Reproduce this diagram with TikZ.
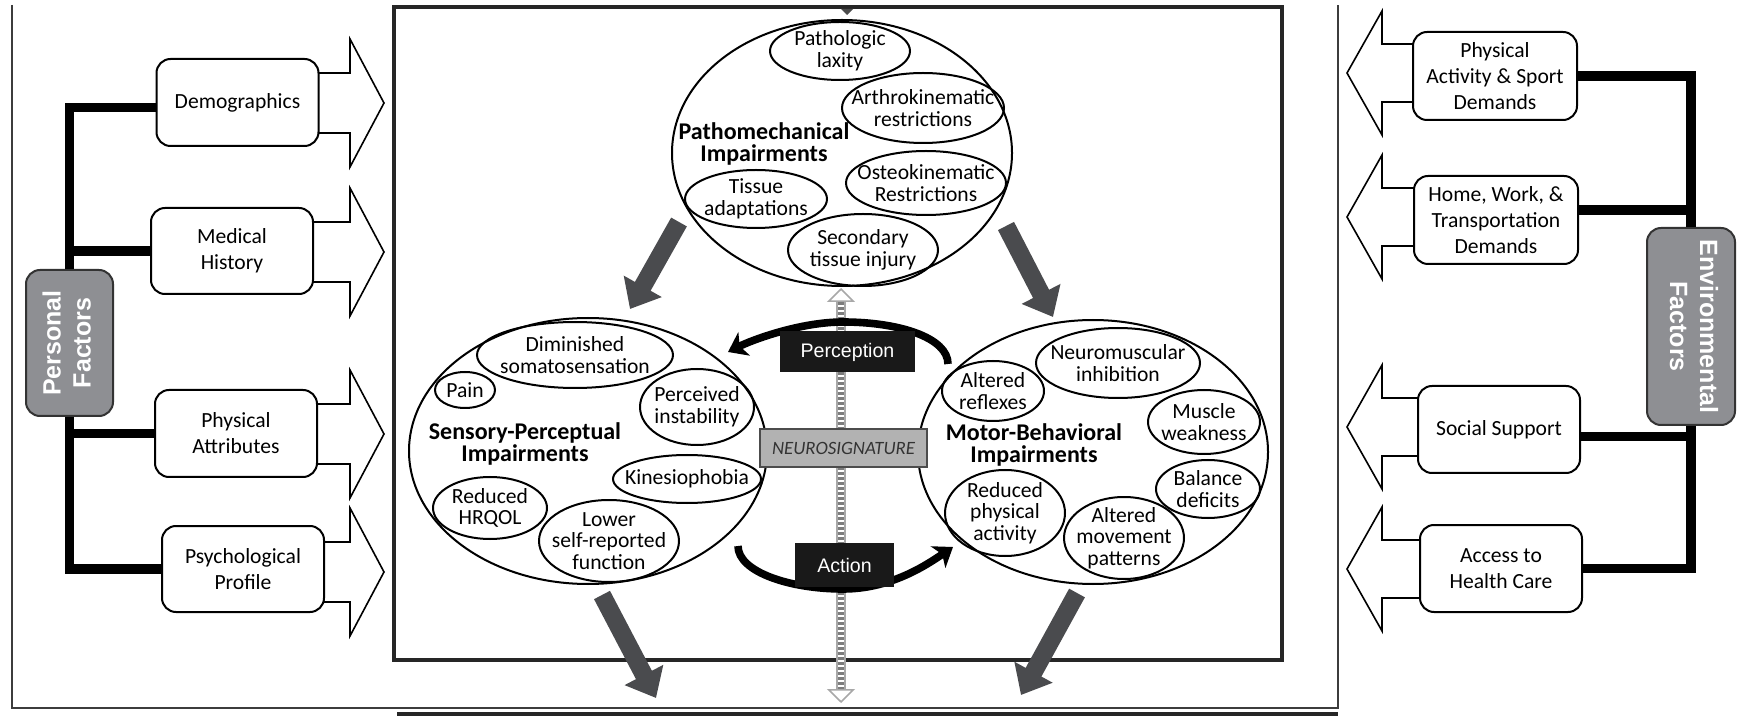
\documentclass[tikz,border=0pt]{standalone}
\usepackage{fontspec}
\usepackage{graphicx}
\setmainfont{Carlito}
\newfontfamily\arialfont{Liberation Sans}
\usetikzlibrary{shapes.geometric,arrows.meta}
\definecolor{arrowgray}{RGB}{74,75,78}
\definecolor{factorgray}{RGB}{142,143,147}
\definecolor{neurogray}{RGB}{178,178,178}
\definecolor{stripegray}{RGB}{168,168,168}
\definecolor{bargray}{RGB}{125,125,125}
\definecolor{framegray}{RGB}{60,60,60}
\newcommand\tightls{\lineskiplimit-20pt\relax}
\newcommand\lblk[1]{\draw[blockarrow] (290,{#1-30}) -- (350,{#1-30}) -- (350,{#1-64}) -- (384,#1) -- (350,{#1+64}) -- (350,{#1+30}) -- (290,{#1+30}) -- cycle;}
\newcommand\rblk[1]{\draw[blockarrow] (1440,{#1-29}) -- (1382,{#1-29}) -- (1382,{#1-62}) -- (1347,#1) -- (1382,{#1+62}) -- (1382,{#1+29}) -- (1440,{#1+29}) -- cycle;}
\begin{document}
\begin{tikzpicture}[x=0.5pt,y=-0.5pt,
  fbox/.style={draw, line width=1pt, rounded corners=7pt, fill=white, align=center, inner sep=0pt, font=\fontsize{10.8}{13}\selectfont},
  factor/.style={draw=black!80, line width=1pt, rounded corners=7pt, fill=factorgray, text=white, inner sep=0pt, font=\arialfont\bfseries\fontsize{12.5}{15}\selectfont},
  conn/.style={line width=4.75pt},
  blockarrow/.style={draw, line width=0.8pt, fill=white, line join=miter},
  ell/.style={draw, ellipse, line width=1pt, inner sep=0pt},
  etext/.style={align=center, inner sep=0pt, font=\fontsize{10.8}{10.8}\selectfont\tightls},
  ttext/.style={align=center, inner sep=0pt, font=\bfseries\fontsize{12}{10.8}\selectfont\tightls},
  bigarrow/.style={arrowgray, line width=9pt, -{Triangle[width=21pt,length=13pt]}},
  curvearrow/.style={line width=3.8pt, -{Stealth[length=9pt,width=13pt,inset=2.5pt]}},
  blackbox/.style={fill=black!90, text=white, inner sep=0pt, font=\arialfont\fontsize{9.8}{11}\selectfont},
]
\useasboundingbox (0,0) rectangle (1740,716);
\fill[white] (0,0) rectangle (1740,716);

% frames
\draw[framegray, line width=1pt] (12,5) -- (12,708) -- (1338,708) -- (1338,5);
\draw[black!85, line width=2.5pt] (397,714) -- (1338,714);
\draw[black!85, line width=2pt] (394,7) rectangle (1282,660);
\fill[black!70] (841,9) -- (853,9) -- (847,15) -- cycle;

% block arrows
\lblk{103}
\lblk{252}
\lblk{434}
\lblk{572}
\rblk{73}
\rblk{217}
\rblk{427}
\rblk{569}

% personal factor boxes
\node[fbox, minimum width=81pt, minimum height=43.5pt] (demo) at (237.5,102.5) {Demographics};
\node[fbox, minimum width=81pt, minimum height=43pt] (med) at (232,251) {Medical\\History};
\node[fbox, minimum width=81pt, minimum height=43.5pt] (phys) at (236,433.5) {Physical\\Attributes};
\node[fbox, minimum width=81pt, minimum height=43pt] (psych) at (243,569) {Psychological\\Profile};
\node[factor, minimum width=43.5pt, minimum height=73pt] (pf) at (69.5,343) {\rotatebox{90}{\begin{tabular}{@{}c@{}}Personal\\Factors\end{tabular}}};

% environmental factor boxes
\node[fbox, minimum width=82pt, minimum height=44pt] (pas) at (1495,76) {Physical\\Activity \& Sport\\Demands};
\node[fbox, minimum width=82pt, minimum height=44pt] (home) at (1496,220) {Home, Work, \&\\Transportation\\Demands};
\node[fbox, minimum width=81pt, minimum height=43.5pt] (soc) at (1499,429.5) {Social Support};
\node[fbox, minimum width=81pt, minimum height=43.5pt] (acc) at (1501,568.5) {Access to\\Health Care};
\node[factor, minimum width=44pt, minimum height=98.5pt] (ef) at (1691,326.5) {\rotatebox{-90}{\begin{tabular}{@{}c@{}}Environmental\\Factors\end{tabular}}};

% connectors
\draw[conn] ([yshift=-2.5pt]demo.west) -| (pf.north);
\draw[conn] (med.west) -- (med.west -| pf.north);
\draw[conn] (phys.west) -- (phys.west -| pf.south);
\draw[conn] (psych.west) -| (pf.south);
\draw[conn] (pas.east) -| (ef.north);
\draw[conn] ([yshift=5pt]home.east) -- ([yshift=5pt]home.east -| ef.north);
\draw[conn] ([yshift=-3.5pt]soc.east) -- ([yshift=-3.5pt]soc.east -| ef.south);
\draw[conn] (acc.east) -| (ef.south);

% pathomechanical
\node[ell, minimum width=170pt, minimum height=133pt] (pm) at (842,153) {};
\node[ell, minimum width=70pt, minimum height=29pt] (pl) at (840,51) {};
\node[etext] at (pl) {Pathologic\\laxity};
\node[ell, minimum width=81pt, minimum height=35pt] (ak) at (923,108) {};
\node[etext] at (ak) {Arthrokinematic\\restrictions};
\node[ell, minimum width=80pt, minimum height=32pt] (ok) at (926,183) {};
\node[etext] at (ok) {Osteokinematic\\Restrictions};
\node[ell, minimum width=71pt, minimum height=29pt] (ta) at (756,199) {};
\node[etext] at (ta) {Tissue\\adaptations};
\node[ell, minimum width=75pt, minimum height=36pt] (st) at (863,250) {};
\node[etext] at (st) {Secondary\\tissue injury};
\node[ttext] (pmt) at (764,144) {Pathomechanical\\Impairments};

% sensory-perceptual
\node[ell, minimum width=179pt, minimum height=133pt] (sp) at (588,451) {};
\node[ell, minimum width=98pt, minimum height=33pt] (ds) at (575,355) {};
\node[etext] at (ds) {Diminished\\somatosensation};
\node[ell, minimum width=30pt, minimum height=18pt] (pain) at (465,390) {};
\node[etext] at (pain) {Pain};
\node[ell, minimum width=57pt, minimum height=38pt] (pi) at (697,407) {};
\node[etext] at (pi) {Perceived\\instability};
\node[ell, minimum width=74pt, minimum height=24pt] (kin) at (687,479) {};
\node[etext] at (kin) {Kinesiophobia};
\node[ell, minimum width=57pt, minimum height=31pt] (hrq) at (490,508) {};
\node[etext] at (hrq) {Reduced\\HRQOL};
\node[ell, minimum width=70pt, minimum height=41pt] (lsr) at (609,541) {};
\node[etext] at (lsr) {Lower\\self-reported\\function};
\node[ttext] (spt) at (525,444) {Sensory-Perceptual\\Impairments};

% motor-behavioral
\node[ell, minimum width=175pt, minimum height=132pt] (mb) at (1093,452) {};
\node[ell, minimum width=51pt, minimum height=30pt] (arf) at (993,391) {};
\node[etext] at (arf) {Altered\\reflexes};
\node[ell, minimum width=82pt, minimum height=35pt] (nm) at (1118,363) {};
\node[etext] at (nm) {Neuromuscular\\inhibition};
\node[ell, minimum width=56pt, minimum height=32pt] (mw) at (1204,422) {};
\node[etext] at (mw) {Muscle\\weakness};
\node[ell, minimum width=52pt, minimum height=29pt] (bd) at (1208,489) {};
\node[etext] at (bd) {Balance\\deficits};
\node[ell, minimum width=60pt, minimum height=43pt] (rpa) at (1005,513) {};
\node[etext] at (rpa) {Reduced\\physical\\activity};
\node[ell, minimum width=60pt, minimum height=41pt] (amp) at (1124,538) {};
\node[etext] at (amp) {Altered\\movement\\patterns};
\node[ttext] (mbt) at (1034,445) {Motor-Behavioral\\Impairments};

% central neurosignature axis
\coordinate (ntop) at (841,288);
\coordinate (nbot) at (841,703);
\draw[stripegray, line width=5pt, {Triangle[width=14pt,length=7pt,fill=white,line width=0.8pt]}-{Triangle[width=14pt,length=7pt,fill=white,line width=0.8pt]}] (ntop) -- (nbot);
\draw[white, line width=3.4pt, shorten <=7pt, shorten >=7pt] (ntop) -- (nbot);
\draw[bargray, line width=3.4pt, dash pattern=on 1.3pt off 1.2pt, shorten <=7pt, shorten >=7pt] (ntop) -- (nbot);

% curved arrows
\coordinate (pcs) at (948,364);
\coordinate (pce) at (728,352);
\draw[curvearrow] (pcs) .. controls (948,338) and (900,322) .. (843,322) .. controls (800,322) and (752,340) .. (pce);
\coordinate (acs) at (738,546);
\coordinate (ace) at (953,547);
\draw[curvearrow] (acs) .. controls (738,572) and (790,589) .. (843,589) .. controls (890,589) and (925,566) .. (ace);

\node[blackbox, minimum width=67.5pt, minimum height=20.5pt] (perc) at (847.5,352) {Perception};
\node[draw=black!70, line width=0.8pt, fill=neurogray, minimum width=83.5pt, minimum height=19pt, inner sep=0pt, font=\itshape\fontsize{9.4}{10}\selectfont, text=black!80] (neuro) at (843.5,448) {NEUROSIGNATURE};
\node[blackbox, minimum width=49.5pt, minimum height=22pt] (act) at (844.5,565) {Action};

% big gray arrows
\coordinate (g1s) at (679,222); \coordinate (g1e) at (630,309);
\coordinate (g2s) at (1006,226); \coordinate (g2e) at (1053,317);
\coordinate (g3s) at (602,595); \coordinate (g3e) at (656,698);
\coordinate (g4s) at (1077,593); \coordinate (g4e) at (1021,695);
\draw[bigarrow] (g1s) -- (g1e);
\draw[bigarrow] (g2s) -- (g2e);
\draw[bigarrow] (g3s) -- (g3e);
\draw[bigarrow] (g4s) -- (g4e);
\end{tikzpicture}
\end{document}
